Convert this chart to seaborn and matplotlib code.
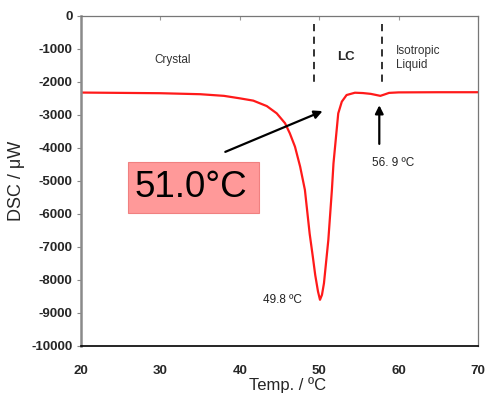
import numpy as np
import pandas as pd
import matplotlib
matplotlib.use('Agg')
import matplotlib.pyplot as plt
from matplotlib.patches import Rectangle
import seaborn as sns

# DSC curve
temp = [20, 25, 30, 35, 38, 40, 41.7, 43.4, 44.65, 45.7, 46.3, 46.95, 47.6, 48.2, 48.8, 49.2, 49.5,
        49.85, 50.1, 50.35, 50.6, 51.15, 51.6, 51.8, 52.2, 52.4, 52.85, 53.45, 54.5, 55.5, 56.5,
        57.2, 57.7, 58.2, 58.8, 60, 65, 70]
dsc = [-2320, -2330, -2340, -2370, -2420, -2495, -2565, -2730, -2950, -3250, -3555, -3960, -4565,
       -5270, -6600, -7300, -7850, -8350, -8600, -8450, -8100, -6790, -5270, -4465, -3455, -2950,
       -2595, -2395, -2325, -2335, -2360, -2395, -2420, -2380, -2330, -2315, -2310, -2310]

x_ticks = [20, 30, 40, 50, 60, 70]
y_ticks = list(range(-10000, 1, 1000))
phase_lines = [49.35, 57.85]

df = pd.DataFrame({'temp': temp, 'dsc': dsc})

sns.set_style('white')
plt.rcParams['font.family'] = ['Liberation Sans', 'DejaVu Sans']

fig = plt.figure(figsize=(4.86, 3.96), dpi=100)
ax = fig.add_axes([0.1667, 0.1263, 0.8168, 0.8333])

sns.lineplot(data=df, x='temp', y='dsc', color='#ff1a1a', lw=1.6, ax=ax)

ax.set_xlim(20, 70)
ax.set_ylim(-10000, 0)
ax.set_xticks(x_ticks)
ax.set_yticks(y_ticks)
ax.set_xticklabels([str(t) for t in x_ticks], fontweight='bold', fontsize=9.5)
ax.set_yticklabels([str(t) for t in y_ticks], fontweight='bold', fontsize=9.5)
ax.tick_params(axis='x', bottom=False, top=True, direction='in', length=3, color='#999999', pad=14)
ax.tick_params(axis='y', left=True, direction='out', length=3, color='#888888', pad=3)

ax.set_xlabel('Temp. / ºC', fontsize=12)
ax.xaxis.set_label_coords(0.52, -0.095)
ax.set_ylabel('DSC / μW', fontsize=13)
ax.yaxis.set_label_coords(-0.14, 0.5)

for side in ['top', 'right']:
    ax.spines[side].set_color('#777777')
    ax.spines[side].set_linewidth(0.9)
ax.spines['left'].set_color('#8a8a8a')
ax.spines['left'].set_linewidth(1.8)
ax.spines['bottom'].set_color('black')
ax.spines['bottom'].set_linewidth(1.2)

for xv in phase_lines:
    ax.plot([xv, xv], [-250, -2050], color='#222222', lw=1.3, ls=(0, (4, 3)))

ax.text(31.6, -1330, 'Crystal', fontsize=8.5, color='#333333', ha='center', va='center')
ax.text(53.4, -1250, 'LC', fontsize=9.5, fontweight='bold', ha='center', va='center')
ax.text(59.7, -1270, 'Isotropic\nLiquid', fontsize=8.5, color='#333333', ha='left', va='center',
        linespacing=1.25)

ax.annotate('', xy=(50.75, -2850), xytext=(37.85, -4150),
            arrowprops=dict(arrowstyle='-|>', color='black', lw=1.6, mutation_scale=12))
ax.annotate('', xy=(57.57, -2620), xytext=(57.57, -3960),
            arrowprops=dict(arrowstyle='-|>', color='black', lw=1.6, mutation_scale=12))

ax.text(59.3, -4450, '56. 9 ºC', fontsize=8.5, color='#222222', ha='center', va='center')
ax.text(45.4, -8600, '49.8 ºC', fontsize=8.5, color='#222222', ha='center', va='center')

ax.add_patch(Rectangle((25.96, -5979), 16.5, 1564, facecolor='#ff9999', edgecolor='#f08080',
                       lw=0.8, zorder=3))
ax.text(33.9, -5212, '51.0°C', fontsize=26.5, color='black', ha='center', va='center', zorder=4)

fig.savefig('out.png', dpi=100)
